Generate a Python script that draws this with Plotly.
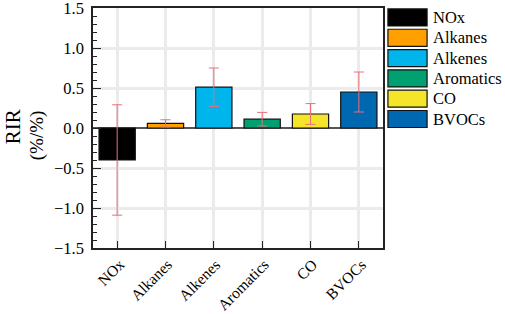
import plotly.graph_objects as go

categories = ["NOx", "Alkanes", "Alkenes", "Aromatics", "CO", "BVOCs"]
values = [-0.40, 0.058, 0.51, 0.11, 0.175, 0.45]
errors = [0.69, 0.045, 0.24, 0.085, 0.13, 0.25]
colors = ["#000000", "#FFA000", "#00B4EC", "#00A070", "#F5E52A", "#0068B0"]
y_ticks = [-1.5, -1.0, -0.5, 0.0, 0.5, 1.0, 1.5]
y_tick_labels = ["\u22121.5", "\u22121.0", "\u22120.5", "0.0", "0.5", "1.0", "1.5"]

FONT = "Liberation Serif, Times New Roman, serif"

fig = go.Figure()
fig.add_trace(go.Bar(
    x=categories, y=values,
    marker=dict(color=colors, line=dict(color="#111111", width=1.2)),
    width=0.75,
    error_y=dict(type="data", array=errors, visible=True,
                 color="#E8707A", thickness=1, width=5),
    showlegend=False,
))

# rotated category labels (anchored like the reference: shifted right of tick)
for c in categories:
    fig.add_annotation(x=c, xref="x", y=0, yref="paper", text=c,
                       textangle=-45, showarrow=False, xanchor="right", yanchor="top",
                       xshift=13, yshift=-5,
                       font=dict(family=FONT, size=15.5, color="black"))

# legend boxes and labels
x0, x1 = 1.017, 1.152
top = 0.996
h = 0.071
step = 0.0846
for i, (c, col) in enumerate(zip(categories, colors)):
    yt = top - i * step
    fig.add_shape(type="rect", xref="paper", yref="paper",
                  x0=x0, x1=x1, y0=yt - h, y1=yt,
                  fillcolor=col, line=dict(color="#111111", width=1.2))
    fig.add_annotation(xref="paper", yref="paper", x=1.167, y=yt - h / 2,
                       text=c, showarrow=False, xanchor="left", yanchor="middle",
                       font=dict(family=FONT, size=16.5, color="black"))

fig.add_annotation(xref="paper", yref="paper", x=-0.278, y=0.505, text="RIR",
                   textangle=-90, showarrow=False, xanchor="center", yanchor="middle",
                   font=dict(family=FONT, size=21, color="black"))
fig.add_annotation(xref="paper", yref="paper", x=-0.193, y=0.47, text="(%/%)",
                   textangle=-90, showarrow=False, xanchor="center", yanchor="middle",
                   font=dict(family=FONT, size=19, color="black"))

fig.update_layout(
    width=505, height=314,
    margin=dict(l=93, r=122, t=8, b=66),
    plot_bgcolor="white", paper_bgcolor="white",
    font=dict(family=FONT, size=14, color="black"),
    bargap=0.25,
)
fig.update_xaxes(
    range=[-0.5, 5.5], automargin=False, showticklabels=False,
    showline=True, mirror=True, linecolor="#222222", linewidth=1.5,
    showgrid=True, gridcolor="#EBEBEB", gridwidth=3,
    ticks="inside", ticklen=7, tickcolor="#222222", tickwidth=1.2,
)
fig.update_yaxes(
    range=[-1.5, 1.5], tickvals=y_ticks, ticktext=y_tick_labels, automargin=False,
    ticklabeloverflow="allow", ticklabelstandoff=4,
    showline=True, mirror=True, linecolor="#222222", linewidth=1.5,
    showgrid=True, gridcolor="#EBEBEB", gridwidth=3,
    zeroline=True, zerolinecolor="#555555", zerolinewidth=1.5,
    ticks="inside", ticklen=8, tickcolor="#222222", tickwidth=1.2,
    tickfont=dict(family=FONT, size=16.5),
    minor=dict(dtick=0.1, ticks="inside", ticklen=4, tickcolor="#222222", showgrid=False),
)

fig.write_html("out.html", config={"displayModeBar": False},
               post_script="document.body.style.margin='0';")
